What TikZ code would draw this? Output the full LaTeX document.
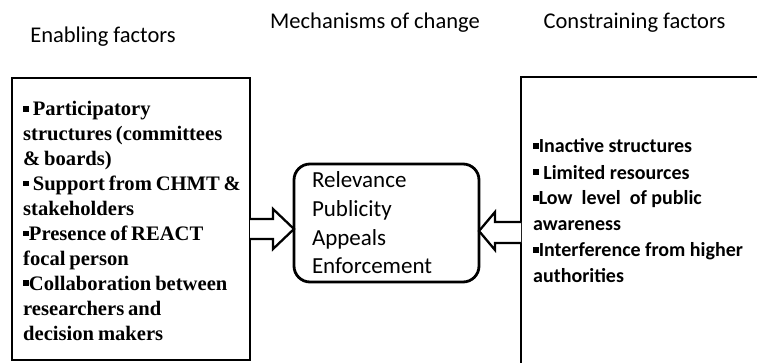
\documentclass[tikz,border=0pt]{standalone}
\usepackage{fontspec}
\setmainfont{Carlito}
\newfontfamily\lserif{Liberation Serif}[WordSpace=0.75]
\usetikzlibrary{calc}
\newcommand\bul{\rule[0.2em]{0.28em}{0.28em}}
\begin{document}
\begin{tikzpicture}[x=1pt,y=-1pt,
  box/.style={draw, line width=2.8pt, outer sep=0pt},
  blockarrow/.style={draw, line width=2.3pt, fill=white, line join=miter},
  header/.style={font=\fontsize{22.5}{27}\selectfont, inner sep=0pt}]
\useasboundingbox (0,0) rectangle (757,363);
\node[header] (h1) at (103,37) {Enabling factors};
\node[header] (h2) at (375,23) {Mechanisms of change};
\node[header] (h3) at (634.5,23) {Constraining factors};

\node[box, minimum width=238, minimum height=282, text width=216, inner xsep=11,
  font=\lserif\bfseries\fontsize{20.6}{24.9}\selectfont] (lbox) at (131,219) {};
\node[anchor=base west, inner sep=0pt, align=left,
  font=\lserif\bfseries\fontsize{20.6}{24.9}\selectfont] (ltext) at ($(lbox.north west)+(11,262)$)
  {\bul\ Participatory\\structures (committees\\\& boards)\\\bul\ Support from CHMT \&\\stakeholders\\\bul Presence of REACT\\focal person\\\bul Collaboration between\\researchers and\\decision makers};

\node[box, rounded corners=16pt, minimum width=185, minimum height=118, text width=149,
  inner xsep=18, align=left, font=\fontsize{23}{28.7}\selectfont] (mid) at (386.5,223)
  {Relevance\\Publicity\\Appeals\\Enforcement};

\node[box, minimum width=300, minimum height=350, anchor=north west] (rbox) at (521,77) {};
\node[anchor=base west, inner sep=0pt, align=left,
  font=\bfseries\fontsize{20}{26}\selectfont] (rtext) at ($(rbox.north west)+(12,206)$)
  {\bul Inactive structures\\\bul\ Limited resources\\\bul Low\ \ level\ \ of public\\awareness\\\bul Interference from\ higher\\authorities};

\draw[blockarrow] (lbox.east) -- ++(23,0) -- ++(0,-10) -- ($(mid.west)+(0,6)$)
  -- ($(lbox.east)+(23,30)$) -- ++(0,-10) -- ($(lbox.east)+(0,20)$);
\draw[blockarrow] ($(rbox.north west)+(0,145)$) -- ++(-26,0) -- ++(0,-10) -- ($(mid.east)+(0,8)$)
  -- ($(rbox.north west)+(-26,173)$) -- ++(0,-7) -- ($(rbox.north west)+(0,166)$);
\end{tikzpicture}
\end{document}
